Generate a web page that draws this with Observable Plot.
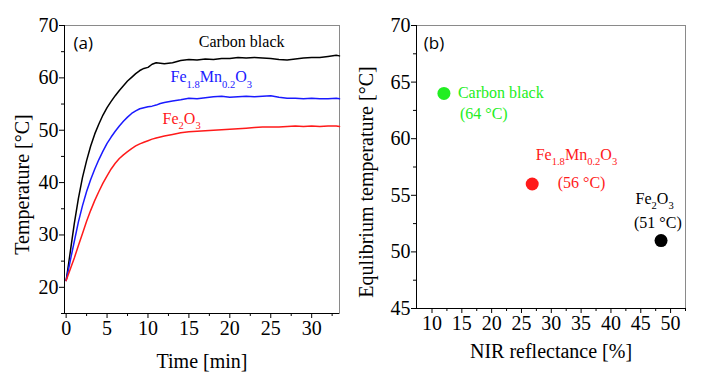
<!DOCTYPE html>
<html><head><meta charset="utf-8">
<script src="https://cdn.jsdelivr.net/npm/d3@7"></script>
<script src="https://cdn.jsdelivr.net/npm/@observablehq/plot@0.6"></script>
<style>
html,body{margin:0;padding:0;background:#fff;}
#wrap{display:flex;width:706px;height:372px;overflow:hidden;}
#wrap svg{display:block;}
</style></head><body><div id="wrap"></div>
<script>
// ---------- Panel (a): heating curves ----------
const time = [0,0.3,0.6,1,1.5,2,2.5,3,3.5,4,4.5,5,5.5,6,6.5,7,7.5,8,8.5,9,9.5,10,10.5,11,11.5,12,13,14,15,16,17,18,19,20,21,22,23,24,25,26,27,28,29,30,31,32,33,33.4];
const carbonBlackT = [21.3,24.5,27.8,32.2,37.0,41.0,44.2,47.0,49.3,51.2,52.9,54.3,55.5,56.6,57.6,58.5,59.4,60.1,60.8,61.4,61.8,62.0,62.6,62.9,62.8,62.7,62.9,63.3,63.5,63.4,63.6,63.5,63.7,63.7,63.9,63.8,63.9,63.8,63.7,63.5,63.4,63.6,63.8,63.9,63.9,64.1,64.3,64.2];
const feMnT       = [21.3,23.5,25.8,28.8,32.5,35.6,38.3,40.6,42.6,44.4,46.0,47.5,48.7,49.8,50.8,51.7,52.5,53.2,53.7,54.1,54.3,54.5,54.6,54.8,55.1,55.3,55.6,55.8,56.1,56.0,56.2,56.4,56.5,56.3,56.4,56.5,56.4,56.5,56.6,56.3,56.1,56.1,56.0,56.1,56.0,56.0,56.1,56.0];
const fe2o3T      = [21.3,22.6,23.9,25.6,28.0,30.3,32.6,34.7,36.6,38.3,39.9,41.3,42.6,43.7,44.6,45.3,45.9,46.5,47.0,47.4,47.7,48.0,48.3,48.5,48.7,48.9,49.2,49.5,49.7,49.8,49.9,50.0,50.1,50.2,50.3,50.4,50.5,50.6,50.6,50.6,50.7,50.8,50.7,50.8,50.7,50.8,50.8,50.7];
const seriesNames  = ["Carbon black", "Fe_{1.8}Mn_{0.2}O_3", "Fe_2O_3"];
const seriesColors = ["#000000", "#1a1aff", "#ff1a1a"];
const xTicksA = [0,5,10,15,20,25,30];
const xMinorA = [2.5,7.5,12.5,17.5,22.5,27.5,32.5];
const yTicksA = [20,30,40,50,60,70];
const yMinorA = [15,25,35,45,55,65];
// annotation anchors (data units)
const labelAT = [21.44, 12.76, 11.78];
const labelATemp = [66.8, 60.1, 52.2];
const labelAAnchor = ["middle", "start", "start"];

// ---------- Panel (b): equilibrium temperature vs NIR reflectance ----------
const samples = ["Carbon black", "Fe_{1.8}Mn_{0.2}O_3", "Fe_2O_3"];
const nirReflectance = [12.0, 26.8, 48.4];
const eqTemperature = [64, 56, 51];
const eqLabels = ["(64 °C)", "(56 °C)", "(51 °C)"];
const sampleColors = ["#22ee22", "#ff1a1a", "#000000"];
const xTicksB = [10,15,20,25,30,35,40,45,50];
const xMinorB = [12.5,17.5,22.5,27.5,32.5,37.5,42.5,47.5,52.5];
const yTicksB = [45,50,55,60,65,70];
const yMinorB = [47.5,52.5,57.5,62.5,67.5];
const nameOffsets = [[14,-1],[3.5,-29.5],[-25.5,-42]];
const tempOffsets = [[16,20],[25.5,-1],[-27,-17.5]];

const SERIF = "'Liberation Serif','Times New Roman',serif";

function richify(root){
  root.querySelectorAll("text").forEach(t => {
    const leafs = t.querySelector("tspan") ? [...t.querySelectorAll("tspan")] : [t];
    for (const el of leafs){
      const s = el.textContent;
      if (!s.includes("_")) continue;
      el.textContent = "";
      const re = /_\{([^}]*)\}|_(.)|([^_]+)/g;
      let m, shifted = false;
      while ((m = re.exec(s))){
        const sub = m[1] ?? m[2];
        const ts = document.createElementNS("http://www.w3.org/2000/svg","tspan");
        if (sub !== undefined){
          ts.textContent = sub;
          ts.setAttribute("font-size","66%");
          ts.setAttribute("dy", shifted ? "0" : "0.5em");
          shifted = true;
        } else {
          ts.textContent = m[3];
          if (shifted){ ts.setAttribute("dy","-0.33em"); shifted = false; }
        }
        el.appendChild(ts);
      }
    }
  });
}

// rows for panel a
const rowsA = [];
[carbonBlackT, feMnT, fe2o3T].forEach((arr, k) => {
  arr.forEach((v, i) => rowsA.push({t: time[i], T: v, series: seriesNames[k]}));
});
const labelsA = seriesNames.map((n, i) => ({name: n, t: labelAT[i], T: labelATemp[i], color: seriesColors[i], anchor: labelAAnchor[i]}));

const xDomA = [-0.2, 33.4], yDomA = [15, 70];
const plotA = Plot.plot({
  width: 353, height: 372,
  marginLeft: 64, marginRight: 14, marginTop: 25, marginBottom: 59,
  style: {fontFamily: SERIF, fontSize: "20px", color: "#000", background: "transparent", overflow: "visible"},
  x: {domain: xDomA, label: null},
  y: {domain: yDomA, label: null},
  color: {domain: seriesNames, range: seriesColors},
  marks: [
    Plot.frame({stroke: "#8a8a8a", strokeWidth: 1}),
    Plot.ruleX([xDomA[0]], {stroke: "#000", strokeWidth: 1}),
    Plot.ruleY([yDomA[0]], {stroke: "#000", strokeWidth: 1}),
    Plot.axisY({ticks: yTicksA, tickSize: 5, tickPadding: 1, label: null, fontSize: 20}),
    Plot.axisY({ticks: yMinorA, tickSize: 3, tickFormat: () => "", label: null}),
    Plot.axisX({ticks: xTicksA, tickSize: 5, tickPadding: 2, label: null, fontSize: 20}),
    Plot.axisX({ticks: xMinorA, tickSize: 3, tickFormat: () => "", label: null}),
    Plot.line(rowsA, {x: "t", y: "T", z: "series", stroke: "series", strokeWidth: 1.5}),
    ...labelsA.map(d => Plot.text([d], {x: "t", y: "T", text: "name", fill: "color", textAnchor: d.anchor, fontSize: 16})),
    Plot.text(["(a)"], {x: [0.9], y: [66.6], textAnchor: "start", fontSize: 17, fontFamily: "'Open Sans',sans-serif"}),
    Plot.text(["Temperature [°C]"], {frameAnchor: "left", textAnchor: "middle", rotate: -90, dx: -42, dy: 15, fontSize: 20}),
    Plot.text(["Time [min]"], {frameAnchor: "bottom", textAnchor: "middle", dy: 54, fontSize: 20})
  ]
});

// panel b
const pointsB = samples.map((s, i) => ({name: s, x: nirReflectance[i], y: eqTemperature[i], lab: eqLabels[i], color: sampleColors[i]}));
const xDomB = [7.4, 52.5], yDomB = [45, 70];
const plotB = Plot.plot({
  width: 353, height: 372,
  marginLeft: 63, marginRight: 21, marginTop: 25, marginBottom: 64,
  style: {fontFamily: SERIF, fontSize: "20px", color: "#000", background: "transparent", overflow: "visible"},
  x: {domain: xDomB, label: null},
  y: {domain: yDomB, label: null},
  marks: [
    Plot.frame({stroke: "#8a8a8a", strokeWidth: 1}),
    Plot.ruleX([xDomB[0]], {stroke: "#000", strokeWidth: 1}),
    Plot.ruleY([yDomB[0]], {stroke: "#000", strokeWidth: 1}),
    Plot.axisY({ticks: yTicksB, tickSize: 5, tickPadding: 1, label: null, fontSize: 20}),
    Plot.axisY({ticks: yMinorB, tickSize: 3, tickFormat: () => "", label: null}),
    Plot.axisX({ticks: xTicksB, tickSize: 5, tickPadding: 2, label: null, fontSize: 20}),
    Plot.axisX({ticks: xMinorB, tickSize: 3, tickFormat: () => "", label: null}),
    Plot.dot(pointsB, {x: "x", y: "y", r: 6.5, fill: "color", stroke: "none"}),
    ...pointsB.map((d, i) => Plot.text([d], {x: "x", y: "y", text: "name", fill: "color", textAnchor: "start", dx: nameOffsets[i][0], dy: nameOffsets[i][1], fontSize: 16})),
    ...pointsB.map((d, i) => Plot.text([d], {x: "x", y: "y", text: "lab", fill: "color", textAnchor: "start", dx: tempOffsets[i][0], dy: tempOffsets[i][1], fontSize: 16})),
    Plot.text(["(b)"], {x: [8.62], y: [68.4], textAnchor: "start", fontSize: 17, fontFamily: "'Open Sans',sans-serif"}),
    Plot.text(["Equlibrium temperature [°C]"], {frameAnchor: "left", textAnchor: "middle", rotate: -90, dx: -50, dy: 15, fontSize: 20}),
    Plot.text(["NIR reflectance [%]"], {frameAnchor: "bottom", textAnchor: "middle", dy: 49, fontSize: 20})
  ]
});

richify(plotA);
richify(plotB);
const wrap = document.getElementById("wrap");
wrap.appendChild(plotA);
wrap.appendChild(plotB);
</script></body></html>
